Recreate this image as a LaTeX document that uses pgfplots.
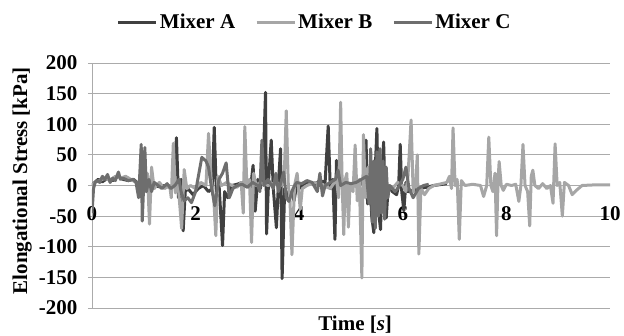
\documentclass[border=0pt]{standalone}
\usepackage{fontspec}
\setmainfont{LiberationSerif}[Extension=.ttf, UprightFont=*-Regular, BoldFont=*-Bold, ItalicFont=*-Italic, BoldItalicFont=*-BoldItalic]
\usepackage{pgfplots}
\pgfplotsset{compat=1.18}
\definecolor{mixA}{HTML}{404040}
\definecolor{mixB}{HTML}{A6A6A6}
\definecolor{mixC}{HTML}{6E6E6E}
\definecolor{gridc}{HTML}{ABABAB}
\newcommand{\bigfont}{\fontsize{21}{24}\selectfont\bfseries}
\begin{document}
\begin{tikzpicture}
\begin{axis}[
  scale only axis, width=518pt, height=245pt,
  xmin=0, xmax=10, ymin=-200, ymax=200,
  separate axis lines,
  axis x line*=bottom, axis y line*=left,
  axis line style={draw=gridc, line width=0.9pt, -},
  xtick={0,2,4,6,8,10}, xticklabels={0,2,4,6,8,10},
  ytick={-200,-150,-100,-50,0,50,100,150,200},
  yticklabels={-200,-150,-100,-50,0,50,100,150,200},
  ymajorgrids, grid style={draw=gridc, line width=0.9pt},
  xtick style={draw=none},
  ytick style={draw=gridc, line width=0.9pt},
  tick align=outside, major tick length=4pt,
  tick label style={font=\bigfont},
  xticklabel style={yshift=109pt},
  yticklabel style={xshift=-7pt},
  xlabel={Time [\textit{s}]},
  xlabel style={at={(axis description cs:0.508,-0.069)}, anchor=center, font=\bigfont},
  ylabel={Elongational Stress [kPa]},
  ylabel style={at={(axis description cs:-0.135,0.52)}, anchor=center, font=\bigfont},
  legend columns=3,
  legend style={at={(0.43,1.167)}, anchor=center, draw=none, fill=none,
    font=\bigfont, nodes={inner sep=2pt},
    /tikz/every even column/.append style={column sep=18pt}},
  legend image code/.code={\draw[#1, line width=3pt] (0pt,0pt) -- (38pt,0pt);},
  every axis plot/.append style={line width=3pt, line join=round, mark=none},
]
\addplot[mixA] coordinates {
(0,0) (0.05,5) (0.12,10) (0.2,6) (0.3,12) (0.4,8) (0.5,15) (0.6,10) (0.7,8) (0.8,10)
(0.9,3) (0.95,-5) (1.0,2) (1.1,-3) (1.2,0) (1.3,-2) (1.4,0) (1.5,-3) (1.58,0)
(1.63,78) (1.67,-20) (1.72,10) (1.76,-74) (1.8,-10) (1.85,-5) (1.95,-15) (2.05,-5)
(2.15,0) (2.25,-10) (2.32,-5) (2.36,95) (2.40,-10) (2.45,5) (2.52,-98) (2.56,-10)
(2.62,-20) (2.7,0) (2.8,2) (2.9,5) (3.0,3) (3.06,-5) (3.11,33) (3.15,-42) (3.2,10)
(3.25,-5) (3.3,20) (3.35,152) (3.37,-79) (3.41,10) (3.46,74) (3.5,-5) (3.56,-69)
(3.6,5) (3.64,60) (3.67,-152) (3.72,-5) (3.8,-20) (3.85,-10) (3.9,-25) (3.95,0)
(4.0,-5) (4.1,3) (4.2,5) (4.3,2) (4.4,8) (4.5,5) (4.56,97) (4.6,-5) (4.65,10)
(4.69,-88) (4.72,41) (4.76,0) (4.85,5) (4.95,-5) (5.05,0) (5.15,8) (5.25,0)
(5.29,74) (5.32,-30) (5.36,20) (5.40,-50) (5.44,-77) (5.47,30) (5.50,93) (5.53,-40)
(5.57,-72) (5.60,20) (5.63,71) (5.66,-30) (5.68,-53) (5.72,0) (5.8,-10) (5.88,-15)
(5.92,0) (5.95,67) (5.98,-10) (6.02,-41) (6.06,5) (6.1,-10) (6.2,-8) (6.3,-5)
(6.45,-3) (6.6,0) (6.85,3)
};
\addlegendentry{Mixer A}
\addplot[mixB] coordinates {
(0,0) (0.05,5) (0.15,8) (0.25,12) (0.35,8) (0.45,15) (0.55,12) (0.65,15) (0.75,10)
(0.85,5) (0.95,0) (1.02,-10) (1.07,20) (1.11,-63) (1.15,30) (1.2,-5) (1.3,5) (1.4,-5)
(1.5,0) (1.53,-20) (1.57,69) (1.61,-12) (1.66,5) (1.73,-70) (1.78,26) (1.83,-5)
(1.9,0) (2.0,-5) (2.1,5) (2.2,0) (2.25,85) (2.3,10) (2.35,-20) (2.39,-82) (2.43,15)
(2.5,0) (2.6,5) (2.7,0) (2.8,-3) (2.88,5) (2.92,-45) (2.95,96) (2.99,0) (3.04,10)
(3.08,-93) (3.12,20) (3.17,0) (3.25,5) (3.4,0) (3.55,5) (3.65,0) (3.71,10) (3.75,122)
(3.79,0) (3.82,-20) (3.86,-113) (3.91,0) (3.96,20) (4.02,-39) (4.06,-5) (4.15,0)
(4.3,5) (4.45,0) (4.6,-5) (4.72,10) (4.76,-20) (4.8,136) (4.83,0) (4.86,-80)
(4.89,10) (4.92,20) (4.95,-68) (4.98,0) (5.04,-10) (5.08,66) (5.12,-25) (5.16,10)
(5.21,-151) (5.24,83) (5.28,-20) (5.33,30) (5.4,-10) (5.5,5) (5.6,-5) (5.7,0)
(5.8,-5) (5.9,5) (6.0,0) (6.06,-10) (6.1,15) (6.16,107) (6.2,-10) (6.25,5)
(6.28,50) (6.31,-112) (6.35,-5) (6.42,-15) (6.5,-5) (6.6,0) (6.75,3) (6.85,5)
(6.9,15) (6.94,-5) (6.97,94) (7.01,0) (7.05,10) (7.09,-88) (7.13,8) (7.2,0)
(7.35,2) (7.5,0) (7.56,-18) (7.62,0) (7.66,79) (7.7,0) (7.74,-10) (7.78,20)
(7.81,-82) (7.84,10) (7.86,39) (7.9,0) (7.94,-8) (8.0,2) (8.1,0) (8.18,2) (8.24,-26)
(8.28,0) (8.32,67) (8.36,0) (8.41,-10) (8.45,-66) (8.48,15) (8.51,25) (8.55,0)
(8.62,-5) (8.7,3) (8.78,-5) (8.85,0) (8.9,-29) (8.94,68) (8.98,0) (9.03,5)
(9.08,-50) (9.12,5) (9.2,0) (9.27,-15) (9.35,-8) (9.46,0) (9.7,1) (10,1)
};
\addlegendentry{Mixer B}
\addplot[mixC] coordinates {
(0,-45) (0.03,-5) (0.06,5) (0.1,8) (0.15,5) (0.2,15) (0.25,10) (0.3,18) (0.35,5)
(0.4,12) (0.45,8) (0.51,22) (0.55,10) (0.6,12) (0.7,8) (0.8,10) (0.85,5) (0.9,-20)
(0.95,67) (0.97,-58) (1.0,5) (1.02,62) (1.05,-10) (1.1,10) (1.15,-10) (1.2,5)
(1.28,0) (1.35,-5) (1.45,3) (1.52,-5) (1.6,0) (1.68,10) (1.72,-10) (1.78,-25)
(1.85,-20) (1.92,-28) (2.0,-10) (2.12,46) (2.2,40) (2.25,30) (2.3,0) (2.37,-33)
(2.45,10) (2.52,20) (2.59,37) (2.65,-20) (2.72,-5) (2.8,0) (2.9,2) (3.0,-3) (3.1,5)
(3.2,0) (3.24,-10) (3.28,74) (3.32,0) (3.4,10) (3.5,-5) (3.55,20) (3.6,-10)
(3.7,22) (3.75,-20) (3.8,-26) (3.88,-5) (3.95,5) (4.05,3) (4.15,8) (4.25,5)
(4.35,-10) (4.4,20) (4.45,-17) (4.5,0) (4.6,5) (4.7,10) (4.75,25) (4.8,0) (4.9,5)
(5.0,3) (5.1,5) (5.2,10) (5.3,15) (5.35,-30) (5.38,60) (5.41,-60) (5.44,40)
(5.47,-70) (5.5,55) (5.53,-50) (5.56,60) (5.59,-45) (5.62,40) (5.65,-55) (5.68,30)
(5.71,-20) (5.75,0) (5.85,-10) (5.9,-5) (6.0,10) (6.06,30) (6.12,-5) (6.2,-20)
(6.3,-5) (6.4,0) (6.5,2)
};
\addlegendentry{Mixer C}
\coordinate (bl) at (rel axis cs:0,0);
\coordinate (tr) at (rel axis cs:1,1);
\end{axis}
\pgfresetboundingbox
\path ([shift={(-92pt,-28pt)}]bl) rectangle ([shift={(14pt,63pt)}]tr);
\end{tikzpicture}
\end{document}
